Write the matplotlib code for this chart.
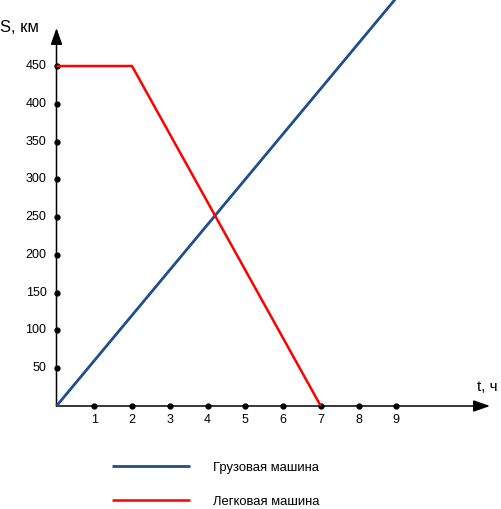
import matplotlib
matplotlib.use("Agg")
import matplotlib.pyplot as plt

plt.rcParams["font.family"] = ["Liberation Sans", "DejaVu Sans"]

# Data
t_truck = [0, 9]
s_truck = [0, 540]
t_car = [0, 2, 7]
s_car = [450, 450, 0]
x_ticks = [1, 2, 3, 4, 5, 6, 7, 8, 9]
y_ticks = [50, 100, 150, 200, 250, 300, 350, 400, 450]
labels = ["Грузовая машина", "Легковая машина"]

BLUE = "#1f4e8c"
RED = "#ff0000"

fig = plt.figure(figsize=(5.02, 5.09), dpi=100)
ax = fig.add_axes([0, 0, 1, 1])
# pixel mapping: t=0 at x=56.5, 37.75 px per hour; S=0 at y=406, 0.7556 px per km
px_t, px_s = 37.75, 340 / 450
ax.set_xlim(-56.5 / px_t, (502 - 56.5) / px_t)
ax.set_ylim(-(509 - 406) / px_s, 406 / px_s)
ax.axis("off")

# axes with arrows
arrow = dict(arrowstyle="-|>,head_length=1.0,head_width=0.35",
             color="black", lw=1.1, shrinkA=0, shrinkB=0)
ax.annotate("", xy=((490 - 56.5) / px_t, 0), xytext=(0, 0), arrowprops=arrow)
ax.annotate("", xy=(0, (406 - 28) / px_s), xytext=(0, 0), arrowprops=arrow)

# tick dots and labels
ax.plot(x_ticks, [0] * len(x_ticks), "o", color="black", ms=3.5, zorder=3)
ax.plot([0] * len(y_ticks), y_ticks, "o", color="black", ms=3.5, zorder=3)
for x in x_ticks:
    ax.text(x, -(420 - 406) / px_s, str(x), ha="center", va="center", fontsize=9)
for y in y_ticks:
    ax.text(-10 / px_t, y, str(y), ha="right", va="center", fontsize=9)

ax.text(-56 / px_t, (406 - 28) / px_s, "S, км", ha="left", va="center", fontsize=12)
ax.text((477 - 56.5) / px_t, (406 - 387) / px_s, "t, ч", ha="left", va="center", fontsize=11)

l1, = ax.plot(t_truck, s_truck, color=BLUE, lw=2.0, zorder=4, solid_capstyle="butt")
l2, = ax.plot(t_car, s_car, color=RED, lw=1.8, zorder=4, solid_capstyle="butt")

leg = fig.legend([l1, l2], labels, loc="upper left",
                 bbox_to_anchor=(100 / 502, 1 - 450 / 509),
                 frameon=False, fontsize=9.4, handlelength=6.0,
                 handletextpad=1.75, labelspacing=1.65)

fig.savefig("out.png", dpi=100)
